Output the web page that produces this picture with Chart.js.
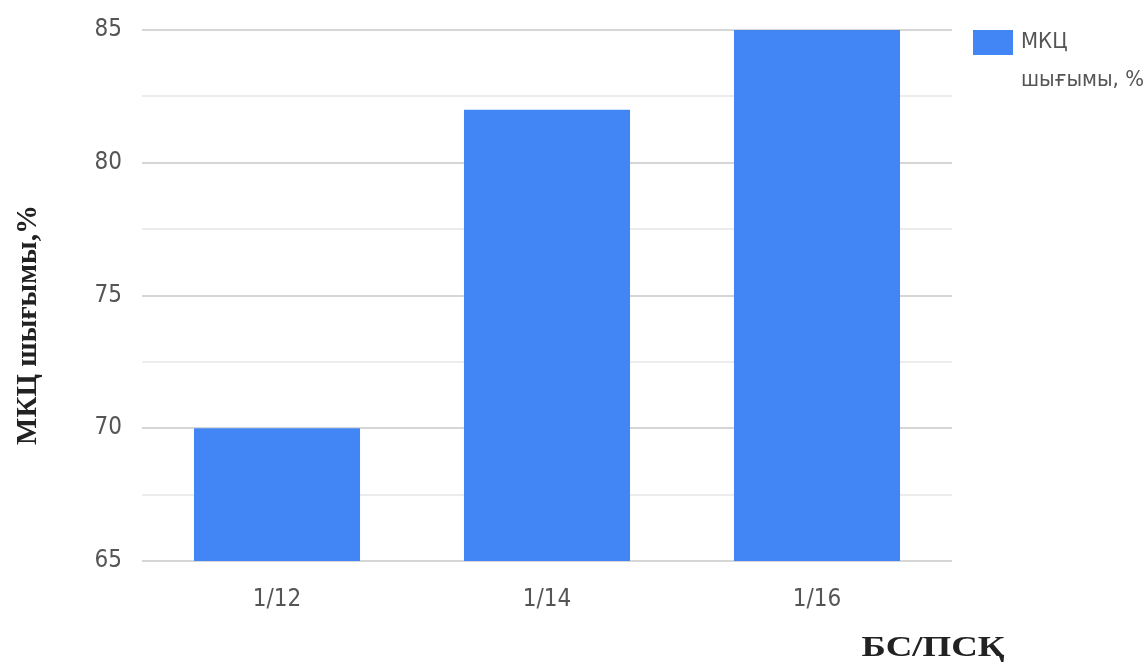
<!DOCTYPE html>
<html>
<head>
<meta charset="utf-8">
<script src="https://cdn.jsdelivr.net/npm/chart.js@4"></script>
<style>
  html, body { margin: 0; padding: 0; background: #fff; }
  .wrap { width: 1146px; height: 664px; }
</style>
</head>
<body>
<div class="wrap"><canvas class="myChart"></canvas></div>
<script>
const categories = ["1/12", "1/14", "1/16"];
const yieldValues = [70, 82, 85];
const seriesName = ["МКЦ", "шығымы, %"];
const yTitle = "МКЦ шығымы,%";
const xTitle = "БС/ПСҚ";

const barColor = "#4285f4";
const tickFont = "'DejaVu Sans', sans-serif";
const titleFont = "'Liberation Serif', 'DejaVu Serif', serif";

// legend + axis titles drawn by hand
const extras = {
    id: "extras",
    afterDraw(chart) {
        const ctx = chart.ctx;
        const a = chart.chartArea;
        ctx.save();
        // legend
        ctx.fillStyle = barColor;
        ctx.fillRect(a.right + 21, a.top, 40, 25);
        ctx.fillStyle = "#555";
        ctx.font = "normal condensed 22px " + tickFont;
        ctx.textBaseline = "middle";
        ctx.textAlign = "left";
        ctx.fillText(seriesName[0], a.right + 69, a.top + 12);
        ctx.fillText(seriesName[1], a.right + 69, a.top + 50);

        // y title
        ctx.fillStyle = "#222";
        ctx.font = "bold 29px " + titleFont;
        ctx.save();
        ctx.translate(29, 325);
        ctx.rotate(-Math.PI / 2);
        ctx.textAlign = "center";
        ctx.fillText(yTitle, 0, 0);
        ctx.restore();

        // x title (stretched like in the source picture)
        ctx.save();
        ctx.font = "bold 29px " + titleFont;
        ctx.translate(933, 649);
        ctx.scale(1.27, 1);
        ctx.textAlign = "center";
        ctx.fillText(xTitle, 0, 0);
        ctx.restore();
        ctx.restore();
    }
};

const data = {
    labels: categories,
    datasets: [
        {
            label: seriesName.join(" "),
            backgroundColor: barColor,
            borderWidth: 0,
            data: yieldValues,
            barPercentage: 0.615,
            categoryPercentage: 1
        }
    ]
};

const tickStyle = { family: tickFont, size: 24, style: "normal", weight: "condensed" };

const config = {
    type: "bar",
    data: data,
    options: {
        responsive: false,
        animation: false,
        layout: { padding: { top: 30, right: 194, left: 0, bottom: 0 } },
        plugins: {
            legend: { display: false },
            tooltip: { enabled: false }
        },
        scales: {
            x: {
                grid: { display: false },
                border: { display: false },
                ticks: {
                    color: "#555",
                    font: tickStyle,
                    padding: 16
                },
                afterFit(scale) { scale.height = 103; }
            },
            y: {
                min: 65,
                max: 85,
                border: { display: false },
                grid: {
                    drawTicks: false,
                    lineWidth: 2,
                    color: (c) => (c.tick && c.tick.value % 5 === 0) ? "#d6d6d6" : "#ececec"
                },
                ticks: {
                    stepSize: 2.5,
                    color: "#555",
                    font: tickStyle,
                    padding: 20,
                    callback: (v) => (v % 5 === 0 ? v : "")
                },
                afterFit(scale) {
                    scale.width = 142;
                    scale.paddingTop = 0;
                }
            }
        }
    },
    plugins: [extras]
};

const canvas = document.querySelector(".myChart");
canvas.width = 1146;
canvas.height = 664;
new Chart(canvas, config);
</script>
</body>
</html>
